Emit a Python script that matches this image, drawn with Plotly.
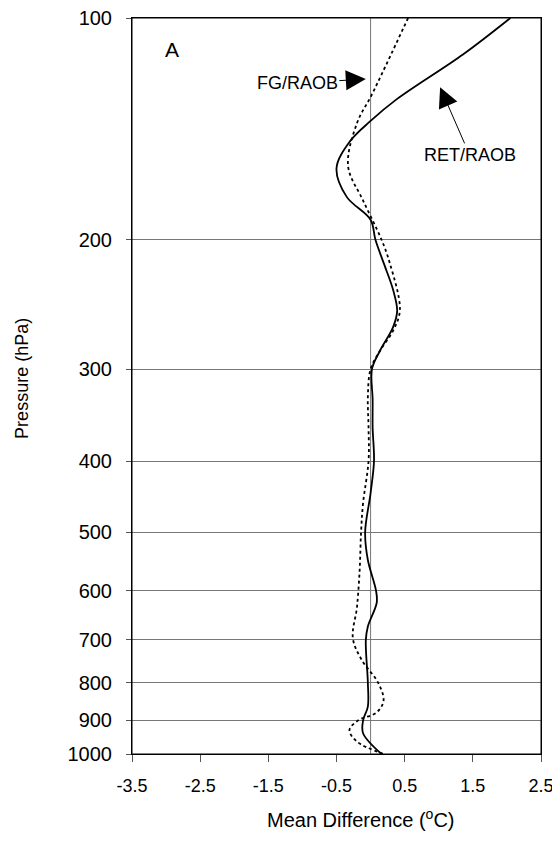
import plotly.graph_objects as go

# Pressure levels (hPa) and mean differences (deg C)
ret_p = [100, 112, 129, 138, 147, 160, 175, 188, 200, 215, 234, 250, 263, 283, 300,
         330, 360, 400, 442, 500, 545, 600, 623, 671, 700, 800, 862, 900, 937, 1000]
ret_x = [2.05, 1.36, 0.38, 0.0, -0.30, -0.50, -0.35, 0.0, 0.07, 0.19, 0.33, 0.39, 0.33, 0.14, 0.02,
         0.03, 0.03, 0.05, 0.0, -0.08, -0.04, 0.08, 0.09, -0.04, -0.07, -0.04, -0.04, -0.11, -0.11, 0.16]

fg_p = [100, 127, 139, 159, 177, 200, 215, 249, 265, 283, 300, 327, 360, 400, 456,
        500, 562, 632, 696, 745, 800, 846, 878, 900, 928, 962, 1000]
fg_x = [0.55, 0.02, -0.20, -0.33, -0.11, 0.16, 0.28, 0.43, 0.34, 0.14, 0.0, -0.04, -0.03, -0.03, -0.11,
        -0.14, -0.16, -0.20, -0.26, -0.13, 0.11, 0.19, 0.09, -0.18, -0.31, -0.20, 0.19]

y_ticks = [100, 200, 300, 400, 500, 600, 700, 800, 900, 1000]
x_ticks = [-3.5, -2.5, -1.5, -0.5, 0.5, 1.5, 2.5]

FONT = "Liberation Sans, Arial, sans-serif"

fig = go.Figure()

# zero reference line
fig.add_trace(go.Scatter(x=[0, 0], y=[100, 1000], mode="lines",
                         line=dict(color="#777777", width=1), showlegend=False, hoverinfo="skip"))

fig.add_trace(go.Scatter(x=fg_x, y=fg_p, mode="lines", name="FG/RAOB",
                         line=dict(color="black", width=1.8, dash="dot", shape="spline", smoothing=1.0),
                         showlegend=False))
fig.add_trace(go.Scatter(x=ret_x, y=ret_p, mode="lines", name="RET/RAOB",
                         line=dict(color="black", width=1.8, shape="spline", smoothing=1.0),
                         showlegend=False))

fig.update_layout(
    width=560, height=842,
    margin=dict(l=124, r=27, t=10, b=96, autoexpand=False),
    paper_bgcolor="white", plot_bgcolor="white",
    font=dict(family=FONT, color="black"),
    xaxis=dict(range=[-3.5, 2.5], tickvals=x_ticks, ticktext=[f"{v:g}" for v in x_ticks],
               showgrid=False, zeroline=False, ticks="outside", ticklen=7, tickcolor="#555555",
               showline=True, linecolor="black", linewidth=1, mirror=True, automargin=False,
               ticklabeloverflow="allow", tickfont=dict(size=18), ticklabelstandoff=8),
    yaxis=dict(type="log", range=[3, 2], tickvals=y_ticks, ticktext=[str(v) for v in y_ticks],
               showgrid=True, gridcolor="#777777", gridwidth=1, zeroline=False,
               ticks="outside", ticklen=5, tickcolor="#555555", automargin=False,
               showline=True, linecolor="black", linewidth=1, mirror=True,
               ticklabeloverflow="allow", tickfont=dict(size=20), ticklabelstandoff=10),
    shapes=[dict(type="rect", xref="paper", yref="paper", x0=0, x1=1, y0=0, y1=1,
                 line=dict(color="black", width=1), fillcolor="rgba(0,0,0,0)", layer="above")],
    annotations=[
        dict(text="Mean Difference (<sup>o</sup>C)", xref="paper", yref="paper",
             x=0.56, y=-0.087, xanchor="center", yanchor="middle",
             showarrow=False, font=dict(size=20)),
        dict(text="Pressure (hPa)", xref="paper", yref="paper", textangle=-90,
             x=-0.269, y=0.511, xanchor="center", yanchor="middle",
             showarrow=False, font=dict(size=18)),
        dict(text="A", xref="paper", yref="paper", x=0.0966, y=0.957,
             showarrow=False, font=dict(size=21), xanchor="center", yanchor="middle"),
        dict(text="FG/RAOB", xref="x", yref="y", x=-0.07, y=2.083, ax=-68.5, ay=4,
             showarrow=True, arrowhead=2, arrowsize=4, arrowwidth=1, arrowcolor="black",
             font=dict(size=18)),
        dict(text="RET/RAOB", xref="x", yref="y", x=1.02, y=2.094, ax=29.5, ay=67.7,
             showarrow=True, arrowhead=2, arrowsize=4, arrowwidth=1, arrowcolor="black",
             font=dict(size=18)),
    ],
)

fig.write_html("out.html")
